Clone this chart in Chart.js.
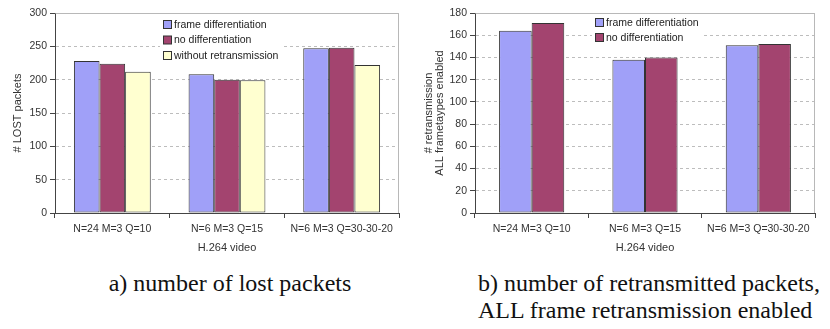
<!DOCTYPE html>
<html>
<head>
<meta charset="utf-8">
<script src="https://cdn.jsdelivr.net/npm/chart.js@4.4.1/dist/chart.umd.min.js"></script>
<style>
  body { margin: 0; background: #fff; width: 830px; height: 329px; position: relative; overflow: hidden; }
  .box { position: absolute; top: 0; width: 415px; height: 258px; }
  .cap { position: absolute; font-family: "Liberation Serif", "Times New Roman", serif; font-size: 24px; line-height: 27px; color: #111; white-space: nowrap; }
</style>
</head>
<body>
<div class="box" style="left:0"><canvas id="lostChart"></canvas></div>
<div class="box" style="left:415px"><canvas id="retxChart"></canvas></div>
<div class="cap" style="left:0; width:460px; text-align:center; top:270px">a) number of lost packets</div>
<div class="cap" style="left:478px; top:270px">b) number of retransmitted packets,<br>ALL frame retransmission enabled</div>

<script>
const categories = ["N=24 M=3 Q=10", "N=6 M=3 Q=15", "N=6 M=3 Q=30-30-20"];

// a) lost packets
const lostFrameDiff = [228, 208, 247];
const lostNoDiff = [224, 200, 248];
const lostNoRetx = [212, 199, 222];

// b) retransmitted packets
const retxFrameDiff = [164, 138, 151];
const retxNoDiff = [171, 140, 152];

const COLORS = {
  frame: "#a0a0f8",
  nodiff: "#a3446f",
  noretx: "#ffffd0"
};

const FONT = "Arial, 'Liberation Sans', sans-serif";
const TXT = "#333";

// legend drawn inside plot area with a white backing
const boxLegend = {
  id: "boxLegend",
  afterDraw(chart, args, opts) {
    const ctx = chart.ctx;
    const sets = chart.data.datasets;
    ctx.save();
    ctx.fillStyle = "#fff";
    ctx.fillRect(opts.x - 3, opts.y - 8, opts.w, opts.step * sets.length + 2);
    ctx.font = "10.5px " + FONT;
    ctx.textBaseline = "middle";
    sets.forEach((ds, i) => {
      const y = opts.y + i * opts.step;
      ctx.fillStyle = ds.backgroundColor;
      ctx.fillRect(opts.x + 0.5, y - 4.5, 8, 8);
      ctx.strokeStyle = "#333";
      ctx.lineWidth = 1;
      ctx.strokeRect(opts.x + 0.5, y - 4.5, 8, 8);
      ctx.fillStyle = "#222";
      ctx.fillText(ds.label, opts.x + 11, y);
    });
    ctx.restore();
  }
};

// gray frame on top and right of plot area
const plotFrame = {
  id: "plotFrame",
  beforeDatasetsDraw(chart) {
    const { ctx, chartArea: a } = chart;
    ctx.save();
    ctx.strokeStyle = "#b8b8b8";
    ctx.lineWidth = 1;
    ctx.beginPath();
    ctx.moveTo(Math.round(a.left) + 0.5, Math.round(a.top) + 0.5);
    ctx.lineTo(Math.round(a.right) - 0.5, Math.round(a.top) + 0.5);
    ctx.lineTo(Math.round(a.right) - 0.5, Math.round(a.bottom));
    ctx.stroke();
    ctx.restore();
  }
};

function makeOptions(yMax, yStep, yTitle, yWidth, rightPad, catPct, legend, titlePad) {
  return {
    responsive: true,
    maintainAspectRatio: false,
    animation: false,
    layout: { padding: { top: 13, right: rightPad, left: 0, bottom: 0 } },
    plugins: {
      legend: { display: false },
      tooltip: { enabled: false },
      boxLegend: legend
    },
    datasets: {
      bar: { barPercentage: 1, categoryPercentage: catPct, borderWidth: 1, borderColor: "#333", borderSkipped: false }
    },
    scales: {
      x: {
        grid: { offset: true, drawOnChartArea: false, drawTicks: true, tickLength: 5, color: "#444" },
        border: { color: "#444" },
        ticks: { color: TXT, font: { family: FONT, size: 10.5 }, padding: 5, maxRotation: 0 },
        title: { display: true, text: "H.264 video", color: TXT, font: { family: FONT, size: 11 }, padding: { top: 0, bottom: 3 } },
        afterFit(scale) { scale.height = 45; }
      },
      y: {
        min: 0,
        max: yMax,
        ticks: { stepSize: yStep, color: TXT, font: { family: FONT, size: 10.5 }, padding: 3 },
        grid: { color: "#bdbdbd", tickColor: "#444", tickLength: 5, tickBorderDash: [] },
        border: { color: "#444", dash: [3, 3] },
        title: { display: true, text: yTitle, color: TXT, font: { family: FONT, size: 11, lineHeight: 1.05 }, padding: titlePad },
        afterFit(scale) { scale.width = yWidth; }
      }
    }
  };
}

document.addEventListener("DOMContentLoaded", () => {
  Chart.register(boxLegend, plotFrame);

  new Chart(document.getElementById("lostChart"), {
    type: "bar",
    data: {
      labels: categories,
      datasets: [
        { label: "frame differentiation", data: lostFrameDiff, backgroundColor: COLORS.frame },
        { label: "no differentiation", data: lostNoDiff, backgroundColor: COLORS.nodiff },
        { label: "without retransmission", data: lostNoRetx, backgroundColor: COLORS.noretx }
      ]
    },
    options: makeOptions(300, 50, "# LOST packets", 55, 16, 0.67,
      { x: 163, y: 25, step: 15.5, w: 124 }, { top: 12, bottom: 0 })
  });

  new Chart(document.getElementById("retxChart"), {
    type: "bar",
    data: {
      labels: categories,
      datasets: [
        { label: "frame differentiation", data: retxFrameDiff, backgroundColor: COLORS.frame },
        { label: "no differentiation", data: retxNoDiff, backgroundColor: COLORS.nodiff }
      ]
    },
    options: makeOptions(180, 20, ["# retransmission", "ALL frametaypes enabled"], 60, 15, 0.575,
      { x: 180, y: 23, step: 15, w: 112 }, { top: 8, bottom: 0 })
  });
});
</script>
</body>
</html>
